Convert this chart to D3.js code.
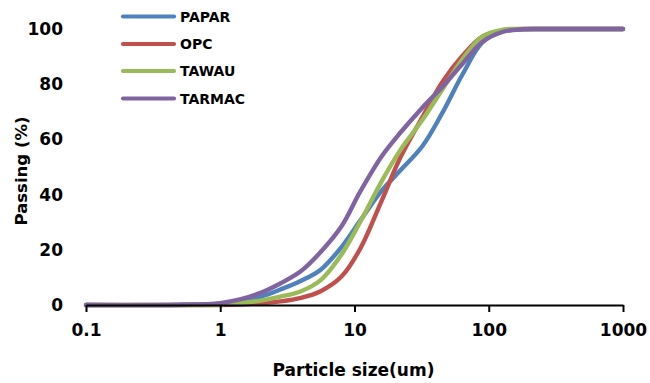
<!DOCTYPE html>
<html>
<head>
<meta charset="utf-8">
<script src="https://cdn.jsdelivr.net/npm/d3@7"></script>
<style>
  html, body { margin: 0; padding: 0; background: #fff; }
  svg { display: block; }
  text { font-family: "DejaVu Sans", sans-serif; font-weight: bold; fill: #000; }
</style>
</head>
<body>
<svg id="chart" width="650" height="383"></svg>
<script>
// Particle size distribution (cumulative % passing)
const sizes  = [0.1, 0.5, 1, 1.4, 2, 2.8, 4, 5.6, 8, 11, 16, 22, 32, 45, 64, 90, 128, 180, 250, 1000];
const papar  = [0, 0, 0.4, 1.4, 3, 5.6, 8.8, 12.8, 21, 30.5, 41.5, 48.8, 57.5, 69.5, 83.7, 95.2, 99.2, 99.9, 100, 100];
const opc    = [0, 0, 0, 0.2, 0.6, 1.3, 2.6, 5, 10.3, 20.3, 38, 53.5, 68, 80.7, 90.4, 97.3, 99.6, 100, 100, 100];
const tawau  = [0, 0, 0.2, 0.7, 1.6, 3, 5, 9, 18.3, 30, 45, 56.2, 67, 78, 89.2, 97.3, 99.8, 100, 100, 100];
const tarmac = [0, 0.1, 0.7, 2, 4.4, 7.8, 12.3, 19.2, 28.5, 41, 54, 62.5, 71.5, 79, 87.5, 95.4, 99, 99.9, 100, 100];

const seriesNames = ["PAPAR", "OPC", "TAWAU", "TARMAC"];
const seriesValues = [papar, opc, tawau, tarmac];
const seriesColors = ["#4F81BD", "#C0504D", "#9BBB59", "#8064A2"];

const xTicks = [0.1, 1, 10, 100, 1000];
const xTickLabels = ["0.1", "1", "10", "100", "1000"];
const yTicks = [0, 20, 40, 60, 80, 100];

const svg = d3.select("#chart");

const x = d3.scaleLog().domain([0.1, 1000]).range([86, 623]);
const y = d3.scaleLinear().domain([0, 100]).range([305, 29]);

// Y axis: labels only
const yAxis = svg.append("g")
  .attr("transform", "translate(70,0)")
  .call(d3.axisLeft(y).tickValues(yTicks).tickSize(0).tickPadding(7));
yAxis.select(".domain").remove();
yAxis.selectAll("text")
  .style("font-family", "DejaVu Sans, sans-serif")
  .style("font-weight", "bold")
  .style("font-size", "17px")
  .attr("fill", "#000");

// Series lines (smooth curves through the measured points)
const line = d3.line()
  .x(d => x(d[0]))
  .y(d => y(d[1]))
  .curve(d3.curveCatmullRom.alpha(0.5));

seriesValues.forEach((vals, i) => {
  svg.append("path")
    .datum(sizes.map((s, j) => [s, vals[j]]))
    .attr("d", line)
    .attr("fill", "none")
    .attr("stroke", seriesColors[i])
    .attr("stroke-width", 4.4)
    .attr("stroke-linejoin", "round")
    .attr("stroke-linecap", "round");
});

// X axis
const xAxis = svg.append("g")
  .attr("transform", "translate(0,305)")
  .call(d3.axisBottom(x)
    .tickValues(xTicks)
    .tickFormat((d, i) => xTickLabels[i])
    .tickSizeInner(7)
    .tickSizeOuter(0)
    .tickPadding(12));
xAxis.select(".domain").attr("stroke", "#000").attr("stroke-width", 2);
xAxis.selectAll(".tick line").attr("stroke", "#000").attr("stroke-width", 2);
xAxis.selectAll("text")
  .style("font-family", "DejaVu Sans, sans-serif")
  .style("font-weight", "bold")
  .style("font-size", "17px")
  .attr("fill", "#000");

// Axis titles
svg.append("text")
  .attr("x", 353.5)
  .attr("y", 376)
  .attr("text-anchor", "middle")
  .style("font-size", "17px")
  .text("Particle size(um)");

svg.append("text")
  .attr("transform", "translate(27,171) rotate(-90)")
  .attr("text-anchor", "middle")
  .style("font-size", "16.5px")
  .text("Passing (%)");

// Legend
const legendY = [16.5, 44, 71, 98.5];
const legend = svg.append("g");
seriesNames.forEach((name, i) => {
  legend.append("line")
    .attr("x1", 123).attr("x2", 174)
    .attr("y1", legendY[i]).attr("y2", legendY[i])
    .attr("stroke", seriesColors[i])
    .attr("stroke-width", 4.2)
    .attr("stroke-linecap", "round");
  legend.append("text")
    .attr("x", 180)
    .attr("y", legendY[i])
    .attr("dy", "0.36em")
    .style("font-size", "14px")
    .text(name);
});
</script>
</body>
</html>
